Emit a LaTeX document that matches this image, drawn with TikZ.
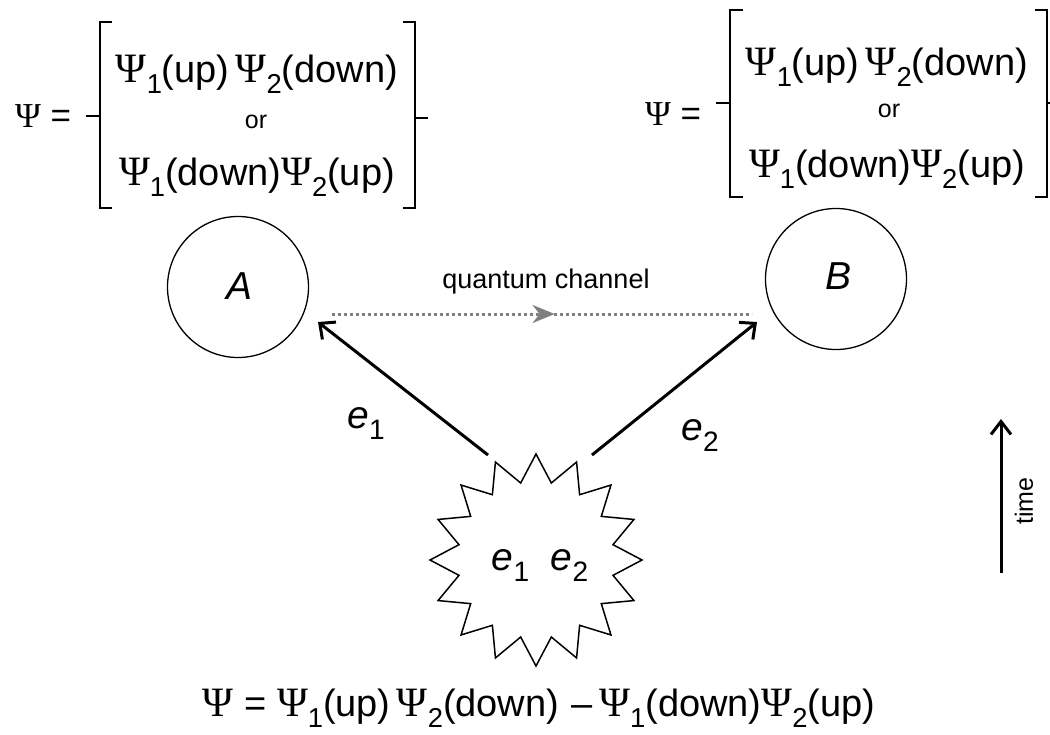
\documentclass[tikz,border=0pt]{standalone}
\usepackage{fontspec}
\setmainfont{Liberation Sans}
\newfontfamily\grk{Liberation Serif}
\usetikzlibrary{shapes.geometric,arrows.meta,decorations.markings}
\definecolor{qgray}{gray}{0.5}
\newcommand\PS{{\grk\scalebox{1.1}{Ψ}}}
\newcommand\lo[1]{\raisebox{-0.3em}{\scalebox{0.72}{\upshape #1}}}
\tikzset{
  fml/.style={font=\fontsize{38}{42}\selectfont, inner sep=0pt, anchor=base},
  orl/.style={font=\fontsize{25}{28}\selectfont, inner sep=0pt, anchor=base},
  lbl/.style={font=\fontsize{39}{42}\selectfont\itshape, inner sep=0pt, anchor=base},
  qlbl/.style={font=\fontsize{27}{30}\selectfont, inner sep=0pt, anchor=base},
  tlbl/.style={font=\fontsize{25}{28}\selectfont, inner sep=0pt, rotate=90},
  brk/.style={line width=1.5pt},
  party/.style={circle, draw, line width=1.3pt, minimum size=141pt, inner sep=0pt},
  burst/.style={star, star points=16, star point ratio=1.35, minimum size=212pt, draw, line width=1.5pt, inner sep=0pt},
  emit/.style={line width=3pt, -{Straight Barb[length=12pt,width=22pt,line width=3pt]}},
  timearr/.style={line width=3pt, -{Straight Barb[length=13pt,width=20pt,line width=3pt]}},
  qline/.style={qgray, line width=3pt, dash pattern=on 3pt off 3pt,
    postaction={decorate, decoration={markings, mark=at position 0.53 with {\arrow[qgray]{Stealth[length=22pt,width=18pt,inset=7pt]}}}}}
}
\begin{document}
\begin{tikzpicture}[x=1pt,y=-1pt]
\useasboundingbox (0,0) rectangle (1050,734);
% left state
\node[fml, font=\fontsize{35}{38}\selectfont] (lpsi) at (43,127) {{\grk Ψ}\ =};
\node[fml] (l1) at (257,82) {\PS\lo{1}(up)\,\PS\lo{2}(down)};
\node[orl] (lor) at (256,128) {or};
\node[fml] (l2) at (257,185) {\PS\lo{1}(down)\PS\lo{2}(up)};
\draw[brk] (112,22) -- (100,22) -- (100,208) -- (112,208);
\draw[brk] (86,116) -- (100,116);
\draw[brk] (403,22) -- (415,22) -- (415,208) -- (403,208);
\draw[brk] (415,118) -- (428,118);
% right state
\node[fml, font=\fontsize{35}{38}\selectfont] (rpsi) at (673,125) {{\grk Ψ}\ =};
\node[fml] (r1) at (887,75) {\PS\lo{1}(up)\,\PS\lo{2}(down)};
\node[orl] (ror) at (889,117) {or};
\node[fml] (r2) at (887,177) {\PS\lo{1}(down)\PS\lo{2}(up)};
\draw[brk] (743,10) -- (730,10) -- (730,197) -- (743,197);
\draw[brk] (716,103) -- (730,103);
\draw[brk] (1035,10) -- (1047,10) -- (1047,197) -- (1035,197);
\draw[brk] (1047,103) -- (1050,103);
% parties
\node[party] (A) at (238,287) {};
\node[lbl] (Alab) at (240,299) {A};
\node[party] (B) at (836,279) {};
\node[lbl] (Blab) at (838,289) {B};
% quantum channel
\node[qlbl] (qc) at (546,288) {quantum channel};
\coordinate (qs) at (332,314);
\coordinate (qe) at (752,314);
\draw[qline] (qs) -- (qe);
% source
\node[burst] (src) at (536,560) {};
\node[lbl] (srclab) at (540,570) {e\lo{1}\ \ e\lo{2}};
\coordinate (t1) at (488,455);
\coordinate (h1) at (318,322);
\coordinate (t2) at (592,455);
\coordinate (h2) at (757,322);
\draw[emit] (t1) -- (h1);
\draw[emit] (t2) -- (h2);
\node[lbl] (e1) at (366,428) {e\lo{1}};
\node[lbl] (e2) at (700,440) {e\lo{2}};
% time
\coordinate (tb) at (1001,573);
\coordinate (tt) at (1001,419);
\draw[timearr] (tb) -- (tt);
\node[tlbl] (time) at (1024,501) {time};
% bottom
\node[fml] (bot) at (539,716) {\PS\ = \PS\lo{1}(up)\,\PS\lo{2}(down)\,\,–\,\PS\lo{1}(down)\PS\lo{2}(up)};
\end{tikzpicture}
\end{document}
